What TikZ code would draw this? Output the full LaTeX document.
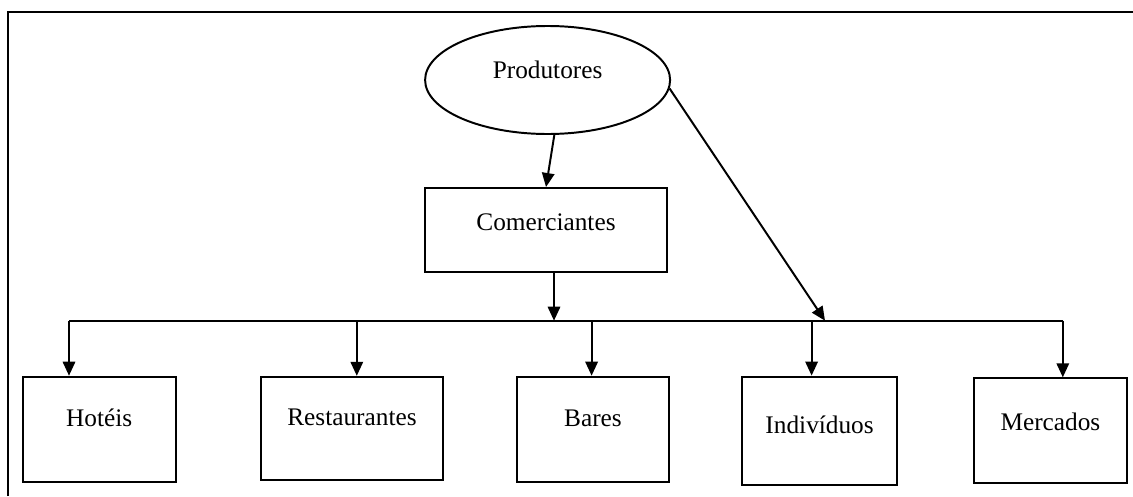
\documentclass[tikz,border=0pt]{standalone}
\usepackage{fontspec}
\setmainfont{Liberation Serif}
\usetikzlibrary{arrows.meta,shapes.geometric}

\begin{document}
\begin{tikzpicture}[line width=1.4pt, >={Triangle[length=3.5mm,width=3.1mm]},
	caixa/.style={draw, rectangle, inner sep=0pt, text height=0.45cm},
	font=\fontsize{18}{21}\selectfont]
		\useasboundingbox (0, 0) rectangle (28.325, 12.4);
		\draw[line width=1.9pt] (0.2, 0) -- (0.2, 12.1) -- (28.325, 12.1); % Moldura
		
		\node[draw, ellipse, minimum width=6.125cm, minimum height=2.7cm, inner sep=0pt, text height=0.45cm, text depth=0.53cm] (prod) at (13.69, 10.4) {Produtores};
		\node[caixa, minimum width=6.04cm, minimum height=2.1cm, text depth=0.43cm] (com) at (13.65, 6.65) {Comerciantes};
		
		\node[caixa, minimum width=3.825cm, minimum height=2.625cm, text depth=0.59cm] (hot) at (2.48, 1.67) {Hotéis};
		\node[caixa, minimum width=4.55cm, minimum height=2.58cm, text depth=0.6cm] (res) at (8.8, 1.69) {Restaurantes};
		\node[caixa, minimum width=3.815cm, minimum height=2.625cm, text depth=0.59cm] (bar) at (14.825, 1.67) {Bares};
		\node[caixa, minimum width=3.89cm, minimum height=2.71cm, text depth=0.33cm] (ind) at (20.49, 1.63) {Indivíduos};
		\node[caixa, minimum width=3.82cm, minimum height=2.625cm, text depth=0.49cm] (mer) at (26.26, 1.63) {Mercados};
		
		% Barra horizontal
		\coordinate (bhot) at (1.725, 4.3825);
		\coordinate (bres) at (8.92, 4.3825);
		\coordinate (bcom) at (13.85, 4.3825);
		\coordinate (bbar) at (14.79, 4.3825);
		\coordinate (bind) at (20.29, 4.3825);
		\coordinate (bdiag) at (20.625, 4.3825);
		\coordinate (bmer) at (26.57, 4.3825);
		\draw (bhot) -- (bmer);
		
		\draw[->] (prod.-83) -- (com.north);
		\draw[->] (prod.-4) -- (bdiag);
		\draw[->] (bcom |- com.south) -- (bcom);
		
		\draw[->] (bhot) -- (bhot |- hot.north);
		\draw[->] (bres) -- (bres |- res.north);
		\draw[->] (bbar) -- (bbar |- bar.north);
		\draw[->] (bind) -- (bind |- ind.north);
		\draw[->] (bmer) -- (bmer |- mer.north);
\end{tikzpicture}
\end{document}
